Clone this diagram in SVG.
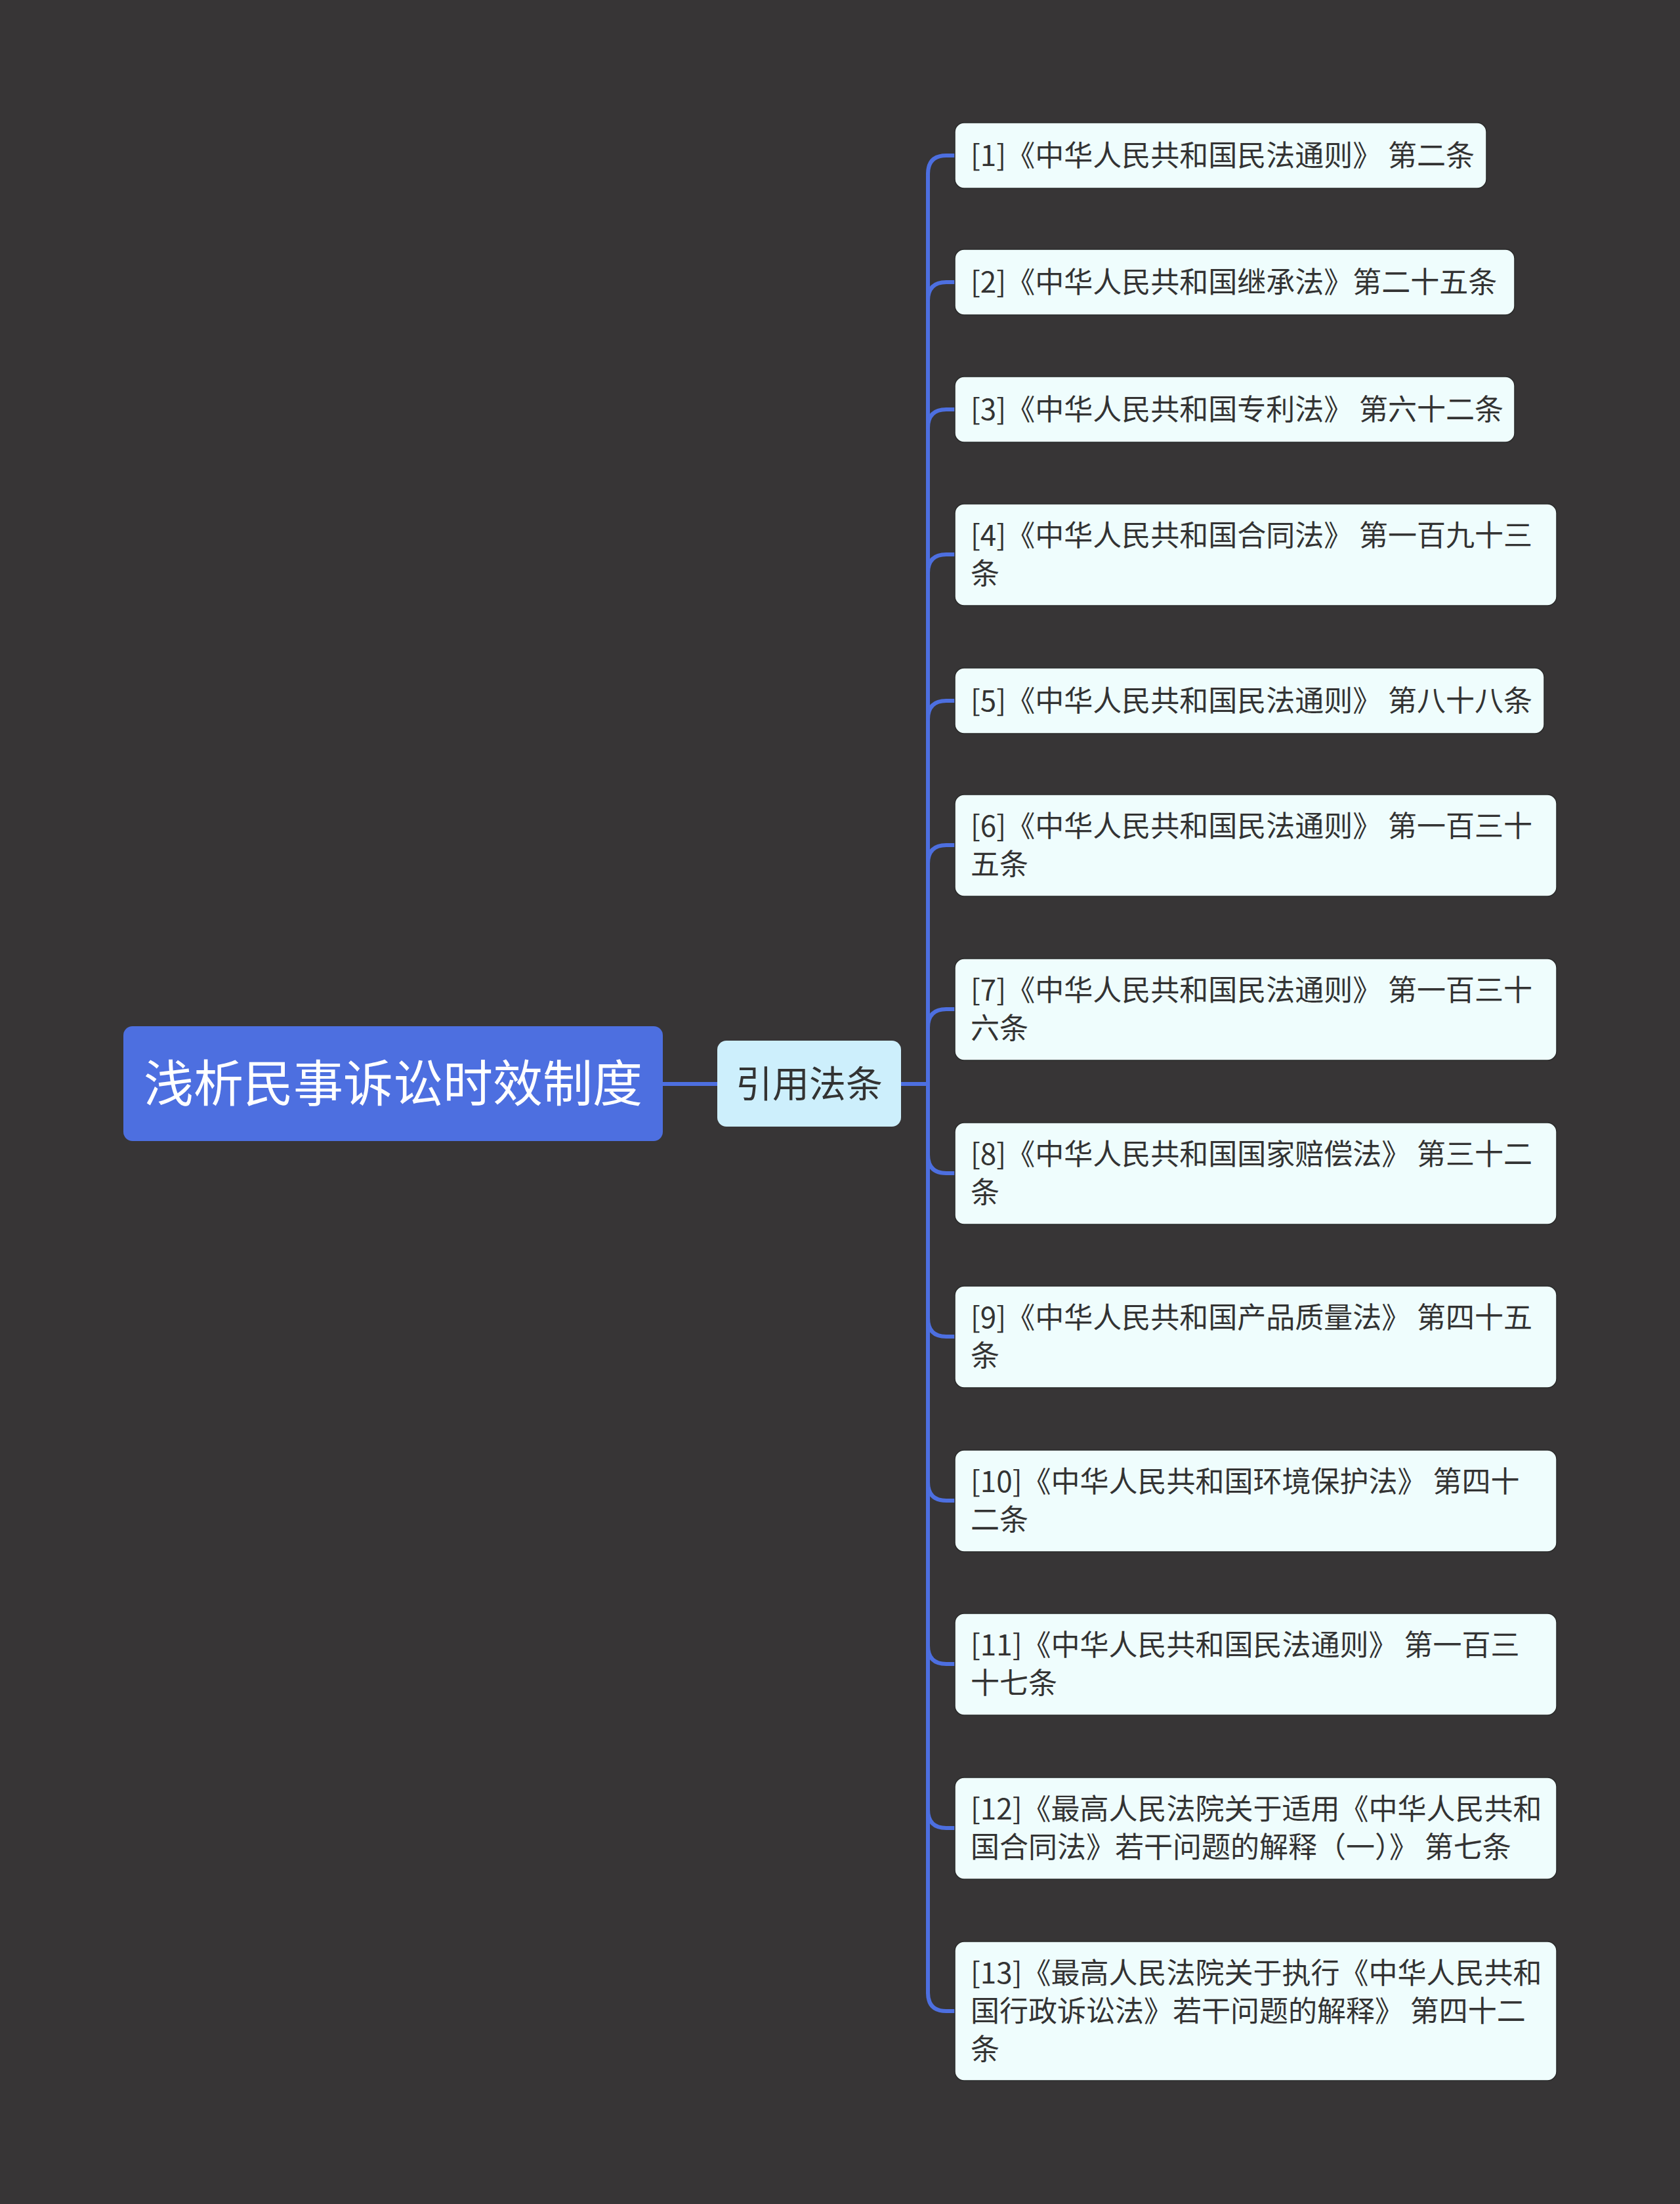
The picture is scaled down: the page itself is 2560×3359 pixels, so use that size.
<svg xmlns="http://www.w3.org/2000/svg" width="2560" height="3359" viewBox="0 0 2560 3359">
<style>
.leaf{fill:#effdfd;stroke:#2a2a2a;stroke-width:1.5}
.lt{font-family:"Noto Sans CJK SC","Noto Sans",sans-serif;font-size:44px;fill:#333333}
.conn{fill:none;stroke:#4d6fe0;stroke-width:6;stroke-linecap:round}
</style>
<rect x="0" y="0" width="2560" height="3359" fill="#373536"/>
<g id="connectors">
<path class="conn" d="M1010 1652 H1093"/>
<path class="conn" d="M1373 1652 H1414"/>
<path class="conn" d="M1414 265 V3037"/>
<path class="conn" d="M1414 265 Q1414 237 1442 237 H1455"/>
<path class="conn" d="M1414 458 Q1414 430 1442 430 H1455"/>
<path class="conn" d="M1414 652 Q1414 624 1442 624 H1455"/>
<path class="conn" d="M1414 873 Q1414 845 1442 845 H1455"/>
<path class="conn" d="M1414 1096 Q1414 1068 1442 1068 H1455"/>
<path class="conn" d="M1414 1316 Q1414 1288 1442 1288 H1455"/>
<path class="conn" d="M1414 1566 Q1414 1538 1442 1538 H1455"/>
<path class="conn" d="M1414 1760 Q1414 1788 1442 1788 H1455"/>
<path class="conn" d="M1414 2009 Q1414 2037 1442 2037 H1455"/>
<path class="conn" d="M1414 2259 Q1414 2287 1442 2287 H1455"/>
<path class="conn" d="M1414 2508 Q1414 2536 1442 2536 H1455"/>
<path class="conn" d="M1414 2758 Q1414 2786 1442 2786 H1455"/>
<path class="conn" d="M1414 3037 Q1414 3065 1442 3065 H1455"/>
</g>
<g id="root">
<rect x="188" y="1564" width="822" height="175" rx="14" fill="#4d6fe0"/>
<text x="599" y="1679" text-anchor="middle" font-family="Noto Sans CJK SC, sans-serif" font-size="76" fill="#ffffff">浅析民事诉讼时效制度</text>
</g>
<g id="sub">
<rect x="1093" y="1586" width="280" height="131" rx="14" fill="#cdeffc"/>
<text x="1233" y="1672" text-anchor="middle" font-family="Noto Sans CJK SC, sans-serif" font-size="56" fill="#333333">引用法条</text>
</g>
<g id="n1"><rect class="leaf" x="1455" y="187" width="810" height="100" rx="14"/><text class="lt" x="1479" y="253">[1]《中华人民共和国民法通则》 第二条</text></g>
<g id="n2"><rect class="leaf" x="1455" y="380" width="853" height="100" rx="14"/><text class="lt" x="1479" y="446">[2]《中华人民共和国继承法》第二十五条</text></g>
<g id="n3"><rect class="leaf" x="1455" y="574" width="853" height="100" rx="14"/><text class="lt" x="1479" y="640">[3]《中华人民共和国专利法》 第六十二条</text></g>
<g id="n4"><rect class="leaf" x="1455" y="768" width="917" height="155" rx="14"/><text class="lt" x="1479" y="832">[4]《中华人民共和国合同法》 第一百九十三</text><text class="lt" x="1479" y="890">条</text></g>
<g id="n5"><rect class="leaf" x="1455" y="1018" width="898" height="100" rx="14"/><text class="lt" x="1479" y="1084">[5]《中华人民共和国民法通则》 第八十八条</text></g>
<g id="n6"><rect class="leaf" x="1455" y="1211" width="917" height="155" rx="14"/><text class="lt" x="1479" y="1275">[6]《中华人民共和国民法通则》 第一百三十</text><text class="lt" x="1479" y="1333">五条</text></g>
<g id="n7"><rect class="leaf" x="1455" y="1461" width="917" height="155" rx="14"/><text class="lt" x="1479" y="1525">[7]《中华人民共和国民法通则》 第一百三十</text><text class="lt" x="1479" y="1583">六条</text></g>
<g id="n8"><rect class="leaf" x="1455" y="1711" width="917" height="155" rx="14"/><text class="lt" x="1479" y="1775">[8]《中华人民共和国国家赔偿法》 第三十二</text><text class="lt" x="1479" y="1833">条</text></g>
<g id="n9"><rect class="leaf" x="1455" y="1960" width="917" height="155" rx="14"/><text class="lt" x="1479" y="2024">[9]《中华人民共和国产品质量法》 第四十五</text><text class="lt" x="1479" y="2082">条</text></g>
<g id="n10"><rect class="leaf" x="1455" y="2210" width="917" height="155" rx="14"/><text class="lt" x="1479" y="2274">[10]《中华人民共和国环境保护法》 第四十</text><text class="lt" x="1479" y="2332">二条</text></g>
<g id="n11"><rect class="leaf" x="1455" y="2459" width="917" height="155" rx="14"/><text class="lt" x="1479" y="2523">[11]《中华人民共和国民法通则》 第一百三</text><text class="lt" x="1479" y="2581">十七条</text></g>
<g id="n12"><rect class="leaf" x="1455" y="2709" width="917" height="155" rx="14"/><text class="lt" x="1479" y="2773">[12]《最高人民法院关于适用《中华人民共和</text><text class="lt" x="1479" y="2831">国合同法》若干问题的解释（一）》 第七条</text></g>
<g id="n13"><rect class="leaf" x="1455" y="2959" width="917" height="212" rx="14"/><text class="lt" x="1479" y="3023">[13]《最高人民法院关于执行《中华人民共和</text><text class="lt" x="1479" y="3081">国行政诉讼法》若干问题的解释》 第四十二</text><text class="lt" x="1479" y="3139">条</text></g>
</svg>
